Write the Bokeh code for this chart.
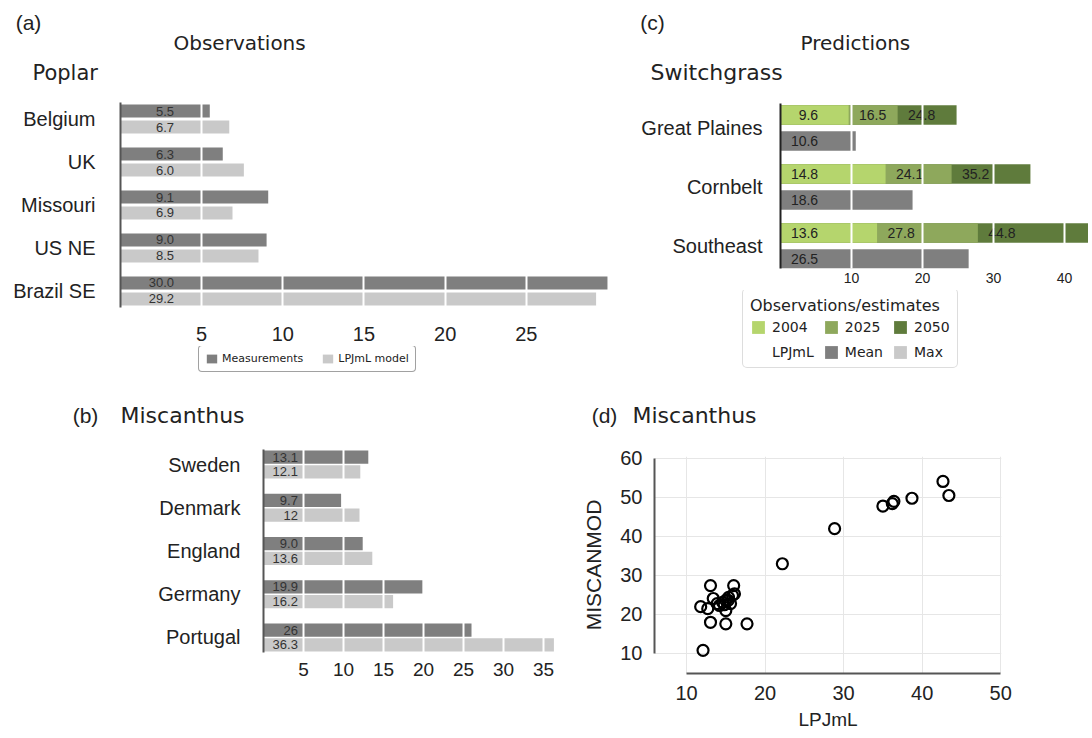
from bokeh.plotting import figure
from bokeh.models import Range1d, FixedTicker, Label, Legend, LegendItem
from bokeh.layouts import column, row
from bokeh.core.properties import value
from bokeh.embed import file_html
from bokeh.resources import INLINE

# ---------------- data ----------------
poplar_sites = ["Belgium", "UK", "Missouri", "US NE", "Brazil SE"]
poplar_meas = [5.5, 6.3, 9.1, 9.0, 30.0]
poplar_meas_labels = ["5.5", "6.3", "9.1", "9.0", "30.0"]
poplar_model = [6.7, 7.6, 6.9, 8.5, 29.3]
poplar_model_labels = ["6.7", "6.0", "6.9", "8.5", "29.2"]
poplar_ticks = [5, 10, 15, 20, 25]

misc_sites = ["Sweden", "Denmark", "England", "Germany", "Portugal"]
misc_meas = [13.1, 9.7, 12.4, 19.9, 26.0]
misc_meas_labels = ["13.1", "9.7", "9.0", "19.9", "26"]
misc_model = [12.1, 12.0, 13.6, 16.2, 36.3]
misc_model_labels = ["12.1", "12", "13.6", "16.2", "36.3"]
misc_ticks = [5, 10, 15, 20, 25, 30, 35]

switch_regions = ["Great Plaines", "Cornbelt", "Southeast"]
obs_2004 = [9.6, 14.8, 13.6]
est_2025 = [16.5, 24.1, 27.8]
est_2050 = [24.8, 35.2, 44.8]
lpjml_mean = [10.6, 18.6, 26.5]
switch_ticks = [10, 20, 30, 40]

lpjml_x = [42.65, 43.4, 38.7, 36.4, 36.2, 35.0, 28.85, 22.2, 12.1, 13.05, 16.0,
           13.4, 11.8, 12.7, 13.9, 14.6, 15.0, 15.35, 15.85, 15.6, 15.0, 13.05,
           15.0, 17.7, 14.2, 15.3, 14.8, 16.1]
miscanmod_y = [54.1, 50.5, 49.8, 49.0, 48.4, 47.8, 42.0, 33.0, 10.8, 27.4, 27.4,
               24.1, 22.0, 21.5, 22.8, 23.1, 23.6, 24.4, 24.9, 22.8, 21.0, 18.0,
               17.6, 17.6, 22.3, 23.6, 22.5, 25.3]
scatter_xticks = [10, 20, 30, 40, 50]
scatter_yticks = [10, 20, 30, 40, 50, 60]

# ---------------- styles ----------------
DARK = "#7f7f7f"
LIGHT = "#c9c9c9"
G04 = "#b5d56d"
G25 = "#8ea85c"
G50 = "#5f7b3c"
TXT = "#222222"
SANS = "Liberation Sans"
DJ = "DejaVu Sans"
TOTAL_W = 1088


def no_align(p):
    if "frame_align" in p.properties():
        p.frame_align = False


def base_fig(w, h, left, right, top, bottom, xr, yr):
    p = figure(width=w, height=h, x_range=xr, y_range=yr,
               output_backend="svg", toolbar_location=None,
               min_border_left=left, min_border_right=right,
               min_border_top=top, min_border_bottom=bottom)
    p.outline_line_color = None
    p.background_fill_color = "white"
    p.border_fill_color = "white"
    no_align(p)
    return p


def blank_fig(w, h):
    p = figure(width=w, height=h, x_range=Range1d(0, w), y_range=Range1d(h, 0),
               output_backend="svg", toolbar_location=None,
               x_axis_location=None, y_axis_location=None,
               min_border_left=0, min_border_right=0, min_border_top=0, min_border_bottom=0)
    p.outline_line_color = None
    p.grid.visible = False
    p.background_fill_color = "white"
    p.border_fill_color = "white"
    no_align(p)
    return p


def head_text(p, x, y, text, size, font, align="left"):
    p.add_layout(Label(x=x, y=y, text=text, text_font=font, text_font_size=size,
                       text_color=TXT, text_align=align, text_baseline="middle"))


def style_bar_axes(p, cats, xticks, ylab_size, ystand, xlab_size, xstand, ycolor):
    n = len(cats)
    p.yaxis.ticker = FixedTicker(ticks=list(range(n)))
    p.yaxis.major_label_overrides = {i: c for i, c in enumerate(cats)}
    p.yaxis.major_label_text_font = SANS
    p.yaxis.major_label_text_font_size = ylab_size
    p.yaxis.major_label_text_color = TXT
    p.yaxis.major_label_standoff = ystand
    p.yaxis.major_tick_line_color = None
    p.yaxis.major_tick_out = 0
    p.yaxis.minor_tick_line_color = None
    p.yaxis.axis_line_color = ycolor
    p.yaxis.axis_line_width = 2
    p.xaxis.ticker = FixedTicker(ticks=xticks)
    p.xaxis.major_label_text_font = SANS
    p.xaxis.major_label_text_font_size = xlab_size
    p.xaxis.major_label_text_color = TXT
    p.xaxis.major_label_standoff = xstand
    p.xaxis.major_tick_line_color = None
    p.xaxis.major_tick_out = 0
    p.xaxis.minor_tick_line_color = None
    p.xaxis.axis_line_color = None
    p.ygrid.visible = False
    p.xgrid.ticker = FixedTicker(ticks=xticks)
    p.xgrid.grid_line_color = "white"
    p.xgrid.grid_line_width = 2
    p.xgrid.level = "overlay"


def set_radius(leg, r):
    if "border_radius" in Legend.properties():
        leg.border_radius = r


def legend_proxy(f, vals, **style):
    # hidden copy of a series, only used to give the legend its swatch
    r = f.hbar(y=list(range(len(vals))), left=0, right=vals, height=0.5, line_color=None, **style)
    r.visible = False
    return r


# ---------------- row 1 header ----------------
head1 = blank_fig(TOTAL_W, 88)
head_text(head1, 28, 22, "(a)", "21px", SANS, "center")
head_text(head1, 173, 42, "Observations", "20px", DJ)
head_text(head1, 32, 72, "Poplar", "21px", DJ)
head_text(head1, 652, 22, "(c)", "21px", SANS, "center")
head_text(head1, 800, 42, "Predictions", "20px", DJ)
head_text(head1, 650, 72, "Switchgrass", "22px", DJ)

# ---------------- panel (a) ----------------
n_a = len(poplar_sites)
pa = base_fig(625, 258, 120, 13, 14, 39, Range1d(0, 30.31), Range1d(4.384, -0.384))
ya_d = [i - 0.186 for i in range(n_a)]
ya_l = [i + 0.186 for i in range(n_a)]
pa.hbar(y=ya_d, left=0, right=poplar_meas, height=0.30, fill_color=DARK, line_color=None)
pa.hbar(y=ya_l, left=0, right=poplar_model, height=0.30, fill_color=LIGHT, line_color=None)
pa.text(x=[3.3] * n_a, y=ya_d, text=poplar_meas_labels, text_align="right", text_baseline="middle",
        text_font=value(SANS), text_font_size="13px", text_color="#333333")
pa.text(x=[3.3] * n_a, y=ya_l, text=poplar_model_labels, text_align="right", text_baseline="middle",
        text_font=value(SANS), text_font_size="13px", text_color="#333333")
style_bar_axes(pa, poplar_sites, poplar_ticks, "20px", 25, "20px", 19, "#555555")

fa = blank_fig(625, 41)
fm = legend_proxy(fa, poplar_meas, fill_color=DARK)
fl = legend_proxy(fa, poplar_model, fill_color=LIGHT)
leg_a = Legend(items=[LegendItem(label="Measurements", renderers=[fm]),
                      LegendItem(label="LPJmL model", renderers=[fl])],
               orientation="horizontal", location=(198, 15),
               label_text_font=DJ, label_text_font_size="11px", label_text_color=TXT,
               glyph_width=13, glyph_height=11, label_height=11, padding=6, spacing=18,
               label_standoff=4, margin=0, border_line_color="#444444", border_line_width=1.5)
set_radius(leg_a, 4)
fa.add_layout(leg_a)

# ---------------- panel (c) ----------------
n_c = len(switch_regions)
pc = base_fig(463, 202, 155, 0, 15, 22, Range1d(0, 43.38), Range1d(2.381, -0.415))
yc_g = [i - 0.22 for i in range(n_c)]
yc_m = [i + 0.22 for i in range(n_c)]
pc.hbar(y=yc_g, left=0, right=est_2050, height=0.33, fill_color=G50, line_color=None)
pc.hbar(y=yc_g, left=0, right=est_2025, height=0.33, fill_color=G25, line_color=None)
pc.hbar(y=yc_g, left=0, right=obs_2004, height=0.33, fill_color=G04, line_color=None)
pc.hbar(y=yc_m, left=0, right=lpjml_mean, height=0.33, fill_color=DARK, line_color=None)
off = 5.3
zero = [0.0] * n_c
lab_x = ([a + off for a in zero] + [a + off for a in obs_2004] + [a + off for a in est_2025]
         + [a + off for a in zero])
lab_y = yc_g + yc_g + yc_g + yc_m
lab_t = ([f"{v:.1f}" for v in obs_2004] + [f"{v:.1f}" for v in est_2025]
         + [f"{v:.1f}" for v in est_2050] + [f"{v:.1f}" for v in lpjml_mean])
pc.text(x=lab_x, y=lab_y, text=lab_t, text_align="right", text_baseline="middle",
        text_font=value(SANS), text_font_size="14px", text_color="#222222")
style_bar_axes(pc, switch_regions, switch_ticks, "20px", 18, "14px", 4, "#222222")

fc = blank_fig(463, 97)
c04 = legend_proxy(fc, obs_2004, fill_color=G04)
c25 = legend_proxy(fc, est_2025, fill_color=G25)
c50 = legend_proxy(fc, est_2050, fill_color=G50)
cbl = legend_proxy(fc, lpjml_mean, fill_color=None)
cmean = legend_proxy(fc, lpjml_mean, fill_color=DARK)
cmax = legend_proxy(fc, lpjml_mean, fill_color=LIGHT)
leg_c = Legend(items=[LegendItem(label="2004", renderers=[c04]),
                      LegendItem(label="2025", renderers=[c25]),
                      LegendItem(label="2050", renderers=[c50]),
                      LegendItem(label="LPJmL", renderers=[cbl]),
                      LegendItem(label="Mean", renderers=[cmean]),
                      LegendItem(label="Max", renderers=[cmax])],
               orientation="horizontal", ncols=3, location=(117, 19),
               title="Observations/estimates", title_text_font=DJ, title_text_font_size="16px",
               title_text_font_style="normal", title_text_color=TXT, title_standoff=4,
               label_text_font=DJ, label_text_font_size="14px", label_text_color=TXT,
               glyph_width=16, glyph_height=16, label_height=16, padding=7, spacing=9,
               label_standoff=6, margin=0, border_line_color="#bbbbbb", border_line_width=1.5)
set_radius(leg_c, 5)
fc.add_layout(leg_c)

# ---------------- row 2 header ----------------
head2 = blank_fig(TOTAL_W, 45)
head_text(head2, 85, 28, "(b)", "21px", SANS, "center")
head_text(head2, 120, 28, "Miscanthus", "22px", DJ)
head_text(head2, 604, 28, "(d)", "21px", SANS, "center")
head_text(head2, 632, 28, "Miscanthus", "22px", DJ)

# ---------------- panel (b) ----------------
n_b = len(misc_sites)
pb = base_fig(567, 302, 263, 11, 17, 82, Range1d(0, 36.625), Range1d(4.347, -0.347))
yb_d = [i - 0.17 for i in range(n_b)]
yb_l = [i + 0.17 for i in range(n_b)]
pb.hbar(y=yb_d, left=0, right=misc_meas, height=0.31, fill_color=DARK, line_color=None)
pb.hbar(y=yb_l, left=0, right=misc_model, height=0.31, fill_color=LIGHT, line_color=None)
pb.text(x=[4.3] * n_b, y=yb_d, text=misc_meas_labels, text_align="right", text_baseline="middle",
        text_font=value(SANS), text_font_size="13px", text_color="#333333")
pb.text(x=[4.3] * n_b, y=yb_l, text=misc_model_labels, text_align="right", text_baseline="middle",
        text_font=value(SANS), text_font_size="13px", text_color="#333333")
style_bar_axes(pb, misc_sites, misc_ticks, "20px", 23, "19px", 10, "#555555")

# ---------------- panel (d) ----------------
pd_ = base_fig(521, 302, 87, 87, 24, 61, Range1d(5.92, 50.1), Range1d(4.87, 60.5))
pd_.scatter(x=lpjml_x, y=miscanmod_y, marker="circle", size=11, fill_color=None,
            line_color="black", line_width=2.2)
pd_.xaxis.ticker = FixedTicker(ticks=scatter_xticks)
pd_.yaxis.ticker = FixedTicker(ticks=scatter_yticks)
pd_.xaxis.bounds = (10, 50)
pd_.yaxis.bounds = (10, 60)
for ax in (pd_.xaxis, pd_.yaxis):
    ax.axis_line_color = "#555555"
    ax.axis_line_width = 2
    ax.major_tick_line_color = None
    ax.major_tick_out = 0
    ax.minor_tick_line_color = None
    ax.major_label_text_font = SANS
    ax.major_label_text_font_size = "20px"
    ax.major_label_text_color = TXT
    ax.axis_label_text_font = SANS
    ax.axis_label_text_font_style = "normal"
    ax.axis_label_text_color = TXT
pd_.xaxis.axis_label_text_font_size = "19px"
pd_.yaxis.axis_label_text_font_size = "21px"
pd_.xaxis.major_label_standoff = 12
pd_.yaxis.major_label_standoff = 12
pd_.xaxis.axis_label = "LPJmL"
pd_.yaxis.axis_label = "MISCANMOD"
pd_.xaxis.axis_label_standoff = 6
pd_.yaxis.axis_label_standoff = 12
pd_.xgrid.ticker = FixedTicker(ticks=scatter_xticks)
pd_.ygrid.ticker = FixedTicker(ticks=scatter_yticks)
pd_.xgrid.grid_line_color = "#e6e6e6"
pd_.ygrid.grid_line_color = "#e6e6e6"

layout = column(
    head1,
    row(column(pa, fa), column(pc, fc)),
    head2,
    row(pb, pd_),
)
open("out.html", "w").write(file_html(layout, INLINE))
